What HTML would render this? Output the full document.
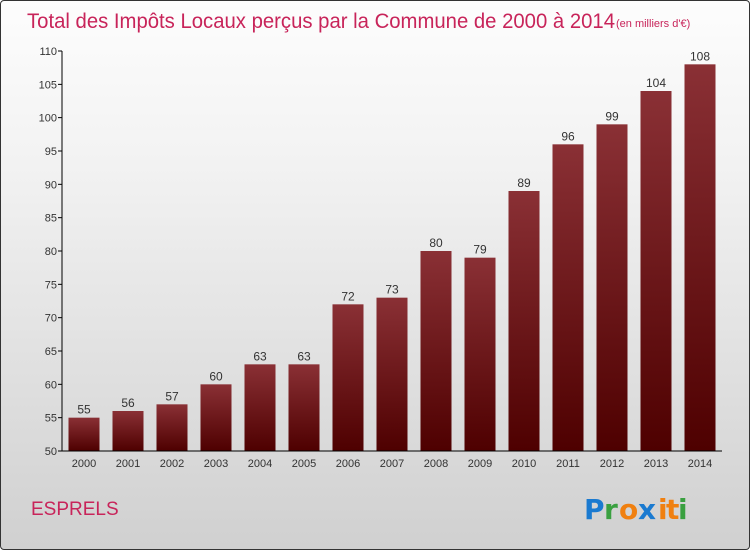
<!DOCTYPE html>
<html><head><meta charset="utf-8"><style>
body{margin:0}
#c{width:750px;height:550px;position:relative;overflow:hidden;box-sizing:border-box;border:1px solid #333;border-radius:4px;background:linear-gradient(#fdfdfd,#f2f2f2 30%,#d0d0d0);font-family:"Liberation Sans",sans-serif}
</style></head><body>
<div id="c">
<svg width="750" height="550" style="position:absolute;left:0;top:0" id="s">
<defs><linearGradient id="g" x1="0" y1="0" x2="0" y2="1"><stop offset="0" stop-color="#8a3035"/><stop offset="1" stop-color="#4e0000"/></linearGradient></defs>
<text x="26" y="27" font-size="21" fill="#c8245a" textLength="588" lengthAdjust="spacingAndGlyphs">Total des Impôts Locaux perçus par la Commune de 2000 à 2014</text>
<text x="615" y="26" font-size="11" fill="#c8245a">(en milliers d'€)</text>
<text x="30" y="514" font-size="19" fill="#c8245a">ESPRELS</text>
<g font-size="28" font-weight="bold" font-family="'DejaVu Sans',sans-serif">
<text x="583" y="518" fill="#1a7ad0">P</text><text x="603" y="518" fill="#3aa040">r</text><text x="618" y="518" fill="#f08010">o</text><text x="637" y="518" fill="#1a7ad0">x</text><text x="657" y="518" fill="#f08010">i</text><text x="665" y="518" fill="#f08010">t</text><text x="677" y="518" fill="#3aa040">i</text>
</g>
</svg>
</div>
<script>
const years=["2000","2001","2002","2003","2004","2005","2006","2007","2008","2009","2010","2011","2012","2013","2014"];
const values=[55,56,57,60,63,63,72,73,80,79,89,96,99,104,108];
const yTicks=[50,55,60,65,70,75,80,85,90,95,100,105,110];
const s=document.getElementById('s'),NS='http://www.w3.org/2000/svg';
const y0=450,y1=50,vmin=50,vmax=110,xl=61,xr=721;
const y=v=>y0-(v-vmin)/(vmax-vmin)*(y0-y1);
const step=(xr-xl)/years.length;
const x=i=>xl+step*(i+0.5);
function el(t,a){const e=document.createElementNS(NS,t);for(const k in a)e.setAttribute(k,a[k]);s.appendChild(e);return e;}
values.forEach((v,i)=>{
 const r=el('rect',{x:x(i)-15.5,y:y(v),width:31,height:y0-y(v),fill:'url(#g)'});
 
 
 const t=el('text',{x:x(i),y:y(v)-4,'text-anchor':'middle','font-size':12,fill:'#333'});t.textContent=v;
 
 
 const l=el('text',{x:x(i),y:466,'text-anchor':'middle','font-size':11,fill:'#333'});l.textContent=years[i];
 
 
});
yTicks.forEach(v=>{
 el('line',{x1:xl-4,x2:xl,y1:y(v),y2:y(v),stroke:'#000'});
 const t=el('text',{x:xl-5,y:y(v)+4,'text-anchor':'end','font-size':11,fill:'#333'});t.textContent=v;
 
 
});
const ya=el('line',{x1:xl,x2:xl,y1:y1,y2:y0,stroke:'#000'});


const xa=el('line',{x1:xl,x2:xr,y1:y0,y2:y0,stroke:'#000'});


</script>
</body></html>
